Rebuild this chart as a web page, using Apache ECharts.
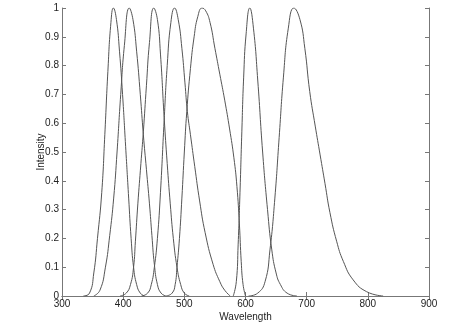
<!DOCTYPE html>
<html>
<head>
<meta charset="utf-8">
<script src="https://cdn.jsdelivr.net/npm/echarts@6/dist/echarts.min.js"></script>
<style>
  html, body { margin: 0; padding: 0; background: #fff; }
  #chart { width: 474px; height: 335px; }
</style>
</head>
<body>
<div id="chart"></div>
<script>
// spectra: [wavelength, intensity]
var led384 = [[335,0],[345,0.01],[352,0.08],[358,0.2],[365,0.36],[370,0.56],[375,0.78],[380,0.95],[384,1],[389,0.96],[394,0.85],[399,0.7],[404,0.52],[409,0.34],[413,0.2],[417,0.1],[422,0.04],[428,0.01],[435,0]];
var led410 = [[352,0],[362,0.02],[371,0.1],[378,0.21],[384.5,0.34],[390,0.5],[396,0.7],[402,0.87],[410,1],[416,0.96],[422,0.85],[428,0.7],[433,0.56],[438,0.44],[443,0.32],[447,0.21],[451,0.11],[456,0.04],[462,0.01],[470,0]];
var led450 = [[395,0],[405,0.01],[412,0.04],[417,0.1],[420,0.19],[424,0.32],[429,0.46],[433,0.57],[438,0.73],[443,0.88],[450,1],[456,0.96],[461,0.84],[467,0.62],[472,0.46],[477,0.32],[482,0.2],[488,0.1],[494,0.04],[500,0.01],[508,0]];
var led484 = [[430,0],[440,0.01],[446,0.04],[451,0.1],[456,0.2],[461,0.36],[467,0.61],[472,0.8],[478,0.95],[484,1],[490,0.96],[496,0.86],[501,0.74],[505,0.64],[510,0.56],[517,0.45],[525,0.33],[534,0.22],[547,0.11],[558,0.05],[566,0.02],[575,0]];
var led530 = [[470,0],[480,0.01],[485,0.04],[488,0.1],[492,0.2],[496,0.34],[500,0.5],[504,0.64],[510,0.79],[516,0.9],[522,0.97],[529,1],[535,0.99],[542,0.95],[550,0.86],[558,0.77],[566,0.68],[574,0.58],[581,0.48],[586,0.38],[590,0.25],[593,0.12],[596,0.04],[600,0]];
var led607 = [[580,0],[585,0.05],[588,0.18],[591,0.36],[594,0.57],[597,0.76],[601,0.91],[607,1],[613,0.93],[620,0.75],[628,0.5],[636,0.3],[643,0.16],[650,0.08],[657,0.04],[668,0.01],[684,0]];
var led679 = [[605,0],[620,0.01],[632,0.05],[640,0.16],[648,0.34],[655,0.55],[662,0.76],[670,0.93],[679,1],[689,0.96],[697,0.86],[705,0.71],[714,0.59],[722,0.49],[730,0.39],[738,0.29],[749,0.19],[760,0.12],[776,0.056],[798,0.015],[825,0]];

var curves = [led384, led410, led450, led484, led530, led607, led679];

var chart = echarts.init(document.getElementById("chart"));
var font = "Liberation Sans";
var axisColor = "#777";
var textColor = "#222";

var option = {
  backgroundColor: "#fff",
  animation: false,
  grid: { left: 62, right: 45, top: 8, bottom: 39 },
  xAxis: [
    {
      type: "value",
      min: 300,
      max: 900,
      interval: 100,
      name: "Wavelength",
      nameLocation: "middle",
      nameGap: 16,
      nameMoveOverlap: false,
      nameTextStyle: { color: textColor, fontFamily: font, fontSize: 10 },
      axisLine: { lineStyle: { color: axisColor } },
      axisTick: { inside: true, length: 4, lineStyle: { color: axisColor } },
      axisLabel: { color: textColor, fontFamily: font, fontSize: 10, margin: 3 },
      splitLine: { show: false },
    },
    {
      type: "value",
      position: "top",
      min: 300,
      max: 900,
      interval: 100,
      axisLine: { show: true, lineStyle: { color: axisColor } },
      axisTick: { inside: true, length: 4, lineStyle: { color: axisColor } },
      axisLabel: { show: false },
      splitLine: { show: false },
    },
  ],
  yAxis: [
    {
      type: "value",
      min: 0,
      max: 1,
      interval: 0.1,
      name: "Intensity",
      nameLocation: "middle",
      nameGap: 16,
      nameMoveOverlap: false,
      nameTextStyle: { color: textColor, fontFamily: font, fontSize: 10 },
      axisLine: { show: true, lineStyle: { color: axisColor } },
      axisTick: { inside: true, length: 4, lineStyle: { color: axisColor } },
      axisLabel: { color: textColor, fontFamily: font, fontSize: 10, margin: 3 },
      splitLine: { show: false },
    },
    {
      type: "value",
      position: "right",
      min: 0,
      max: 1,
      interval: 0.1,
      axisLine: { show: true, lineStyle: { color: axisColor } },
      axisTick: { inside: true, length: 4, lineStyle: { color: axisColor } },
      axisLabel: { show: false },
      splitLine: { show: false },
    },
  ],
  series: curves.map(function (c) {
    return {
      type: "line",
      data: c,
      showSymbol: false,
      smooth: 0.5,
      lineStyle: { color: "#555", width: 1 },
    };
  }),
};
chart.setOption(option);
</script>
</body>
</html>
